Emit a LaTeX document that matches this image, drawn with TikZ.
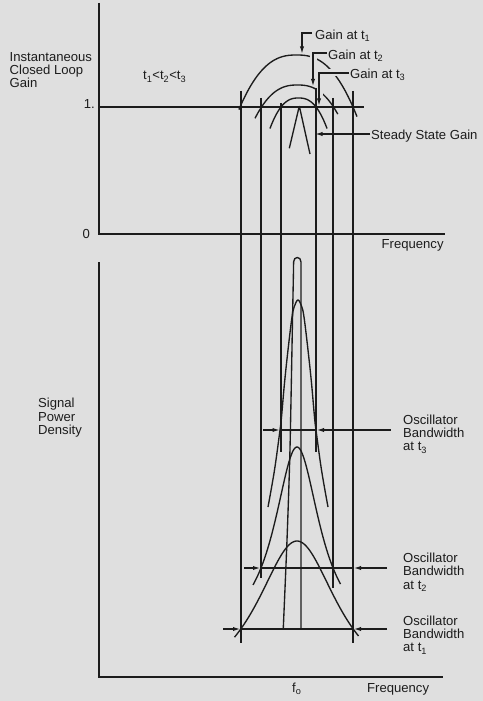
\documentclass[tikz,border=0pt]{standalone}
\usepackage{fontspec}
\setmainfont{Liberation Sans}
\usetikzlibrary{arrows.meta}
\definecolor{bg}{RGB}{223,223,223}
\definecolor{ink}{RGB}{28,28,28}
\newcommand\lblfont{\fontsize{13.1bp}{13.3bp}\selectfont}
\begin{document}
\begin{tikzpicture}[x=1bp,y=-1bp,
  ln/.style={line width=1.35bp,draw=ink},
  axis/.style={line width=1.6bp,draw=ink},
  lbl/.style={font=\lblfont,text=ink,inner sep=0pt,align=left},
  tip/.style={-{Latex[length=7.5bp,width=4.2bp]}},
  halo/.style={line width=7bp,draw=bg},
]
\useasboundingbox (0,0) rectangle (483,701);
\fill[bg] (0,0) rectangle (483,701);

% ---------- axes ----------
\coordinate (ytop) at (99,3);
\coordinate (orig1) at (99,234);
\coordinate (xend1) at (445,234);
\draw[axis] (ytop) -- (orig1) -- (xend1);
\coordinate (ytop2) at (99,262);
\coordinate (orig2) at (99,677);
\coordinate (xend2) at (443,677);
\draw[axis] (ytop2) -- (orig2) -- (xend2);
\coordinate (u0) at (99,107);
\coordinate (u1) at (364,107);
\draw[ln] (u0) -- (u1);

% ---------- gain arcs (upper plot) ----------
\draw[ln] plot[domain=-1.02:1.07,samples=70,variable=\u]
  ({296.5+56.5*\u},{55+52*\u*\u*sqrt(abs(\u))});
\draw[ln] plot[domain=-1.18:1.12,samples=60,variable=\u]
  ({297.5+36*\u},{85+22*\u*\u*sqrt(abs(\u))});
\draw[ln] plot[domain=-1.63:1.63,samples=60,variable=\u]
  ({298.5+17.5*\u},{98+9*\u*\u*sqrt(abs(\u))});
% steady state gain
\coordinate (ssl) at (289.3,148.3);
\coordinate (ssa) at (299.3,106);
\coordinate (ssr) at (310,154);
\draw[ln,rounded corners=2bp] (ssl) -- (ssa) -- (ssr);

% ---------- leaders: coordinates ----------
\coordinate (g1a) at (312,33);  \coordinate (g1b) at (302,33); \coordinate (g1c) at (302,54);
\coordinate (g2a) at (327,53);  \coordinate (g2b) at (313,53); \coordinate (g2c) at (313,86.5);
\coordinate (g3a) at (349,73);  \coordinate (g3b) at (319,73); \coordinate (g3c) at (319,106);
\coordinate (ssa1) at (370,134);  \coordinate (ssa2) at (315,134);

% halos that break the arcs under the leaders
\draw[halo,shorten >=5bp] (g2a) -- (g2b) -- (g2c);
\draw[halo,shorten >=5bp] (g3a) -- (g3b) -- (g3c);

% ---------- vertical bandwidth lines ----------
\coordinate (v1t) at (241,91);  \coordinate (v1b) at (241,643);
\coordinate (v2t) at (261,98);  \coordinate (v2b) at (261,578);
\coordinate (v3t) at (281,103); \coordinate (v3b) at (281,452);
\coordinate (v4t) at (316,88);  \coordinate (v4b) at (316,452);
\coordinate (v5t) at (333,98);  \coordinate (v5b) at (333,588);
\coordinate (v6t) at (353,91);  \coordinate (v6b) at (353,643);
\foreach \i in {1,...,6} {\draw[ln] (v\i t) -- (v\i b);}

% leaders
\draw[ln,tip] (g1a) -- (g1b) -- (g1c);
\draw[ln,tip] (g2a) -- (g2b) -- (g2c);
\draw[ln,tip] (g3a) -- (g3b) -- (g3c);
\draw[ln,tip] (ssa1) -- (ssa2);

% ---------- power spectra (lower plot) ----------
% t1
\draw[ln] plot[domain=234.5:358.5,samples=90] (\x,{700-159/(1+((\x-297)/50.5)^2)});
% t2
\draw[ln] plot[domain=253:340.5,samples=90] (\x,{640-193/(1+((\x-297)/27.8)^2)});
% t3
\draw[ln] plot[smooth,tension=0.6] coordinates {(268,507) (274.5,470) (280,430) (281.5,417) (284.5,383)
  (288,350) (292,317) (294.5,306) (298,300) (301.5,306) (304,317) (308,350) (311.5,383)
  (314.5,417) (316,430) (321.5,470) (328,507)};
% steady-state spike
\coordinate (spr) at (301,628);
\draw[ln] plot[smooth] coordinates {(283.3,628) (287,540) (289.7,460) (291.2,390) (292.5,320) (293.4,275) (293.6,262)}
  .. controls (293.6,256) and (301,256) .. (301,262) -- (spr);

% ---------- bandwidth dimension arrows ----------
\coordinate (b3l) at (263,430);   \coordinate (b3lt) at (280,430);
\coordinate (b3r) at (390.5,430); \coordinate (b3rt) at (316.5,430);
\draw[ln] (b3lt) -- (b3rt);
\draw[ln,tip] (b3l) -- (b3lt);
\draw[ln,tip] (b3r) -- (b3rt);
\coordinate (b2l) at (244,568);   \coordinate (b2lt) at (260.5,568);
\coordinate (b2r) at (387,568);   \coordinate (b2rt) at (353.5,568);
\draw[ln] (b2lt) -- (b2rt);
\draw[ln,tip] (b2l) -- (b2lt);
\draw[ln,tip] (b2r) -- (b2rt);
\coordinate (b1l) at (223,629);   \coordinate (b1lt) at (240.5,629);
\coordinate (b1r) at (387,629);   \coordinate (b1rt) at (353.5,629);
\draw[ln] (b1lt) -- (b1rt);
\draw[ln,tip] (b1l) -- (b1lt);
\draw[ln,tip] (b1r) -- (b1rt);

% ---------- labels ----------
\node[lbl,anchor=north west] (yl1) at (9.5,51.9) {Instantaneous\\Closed Loop\\Gain};
\node[lbl,anchor=base west] (order) at (143,80) {t\textsubscript{1}<t\textsubscript{2}<t\textsubscript{3}};
\node[lbl,anchor=base east] (one) at (95,109) {1.};
\node[lbl,anchor=base east] (zero) at (90,238.3) {0};
\node[lbl,anchor=base west] (fr1) at (381.5,248.3) {Frequency};
\node[lbl,anchor=base west] (lg1) at (315,39.3) {Gain at t\textsubscript{1}};
\node[lbl,anchor=base west] (lg2) at (328,59.3) {Gain at t\textsubscript{2}};
\node[lbl,anchor=base west] (lg3) at (350,78.3) {Gain at t\textsubscript{3}};
\node[lbl,anchor=base west] (lss) at (371,140) {Steady State Gain};
\node[lbl,anchor=north west] (yl2) at (38,398.3) {Signal\\Power\\Density};
\node[lbl,anchor=north west] (ob3) at (403,414.6) {Oscillator\\Bandwidth\\at t\textsubscript{3}};
\node[lbl,anchor=north west] (ob2) at (403,553) {Oscillator\\Bandwidth\\at t\textsubscript{2}};
\node[lbl,anchor=north west] (ob1) at (403,615.6) {Oscillator\\Bandwidth\\at t\textsubscript{1}};
\node[lbl,anchor=base west] (f0) at (292,692.3) {f\textsubscript{o}};
\node[lbl,anchor=base west] (fr2) at (367,692.3) {Frequency};
\end{tikzpicture}
\end{document}
